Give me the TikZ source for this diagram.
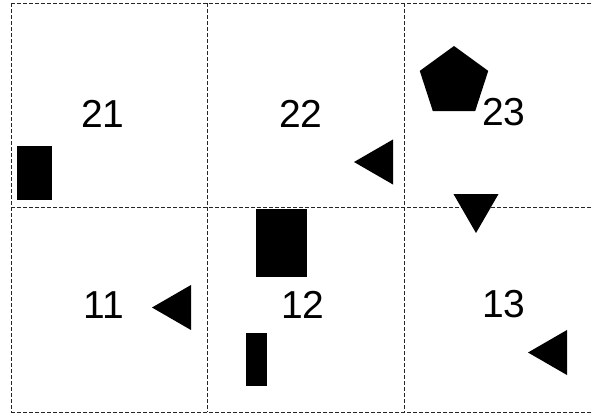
\documentclass[tikz,border=0pt]{standalone}
\usepackage{fontspec}
\setmainfont{Liberation Sans}
\usetikzlibrary{shapes.geometric}
\tikzset{
  gridline/.style={draw=black!85,line width=1pt,dash pattern=on 4pt off 2pt},
  cell/.style={font=\fontsize{39}{41}\selectfont,inner sep=0pt},
  blk/.style={rectangle,fill=black,draw=none,inner sep=0pt,outer sep=0pt},
  tri/.style={regular polygon,regular polygon sides=3,fill=black,draw=none,
    inner sep=0pt,outer sep=0pt,minimum size=52pt},
  trileft/.style={tri,shape border rotate=90},
  tridown/.style={tri,shape border rotate=180},
  penta/.style={regular polygon,regular polygon sides=5,fill=black,draw=none,
    inner sep=0pt,outer sep=0pt,minimum size=72pt}
}
\begin{document}
\begin{tikzpicture}[x=1pt,y=-1pt]
  \useasboundingbox (0,0) rectangle (592,416);
  % grid of cells
  \foreach \y in {3,207,412} \draw[gridline] (11,\y) -- (592,\y);
  \foreach \x in {11,207,404} \draw[gridline] (\x,3) -- (\x,412);
  % cell labels
  \node[cell] (c21) at (103,114) {21};
  \node[cell] (c22) at (301,114) {22};
  \node[cell] (c23) at (504,112) {23};
  \node[cell] (c11) at (104,305) {11};
  \node[cell] (c12) at (303,305) {12};
  \node[cell] (c13) at (504,304) {13};
  % shapes
  \node[blk,minimum width=35pt,minimum height=54pt] (r21) at (34.5,173) {};
  \node[blk,minimum width=51pt,minimum height=68pt] (r12a) at (281.5,243) {};
  \node[blk,minimum width=21pt,minimum height=53pt] (r12b) at (256.5,359.5) {};
  \node[penta] (p23) at (454,82) {};
  \node[trileft] (t22) at (380,162) {};
  \node[trileft] (t11) at (178,307.5) {};
  \node[trileft] (t13) at (554,352.5) {};
  \node[tridown] (t23) at (476,207) {};
\end{tikzpicture}
\end{document}
